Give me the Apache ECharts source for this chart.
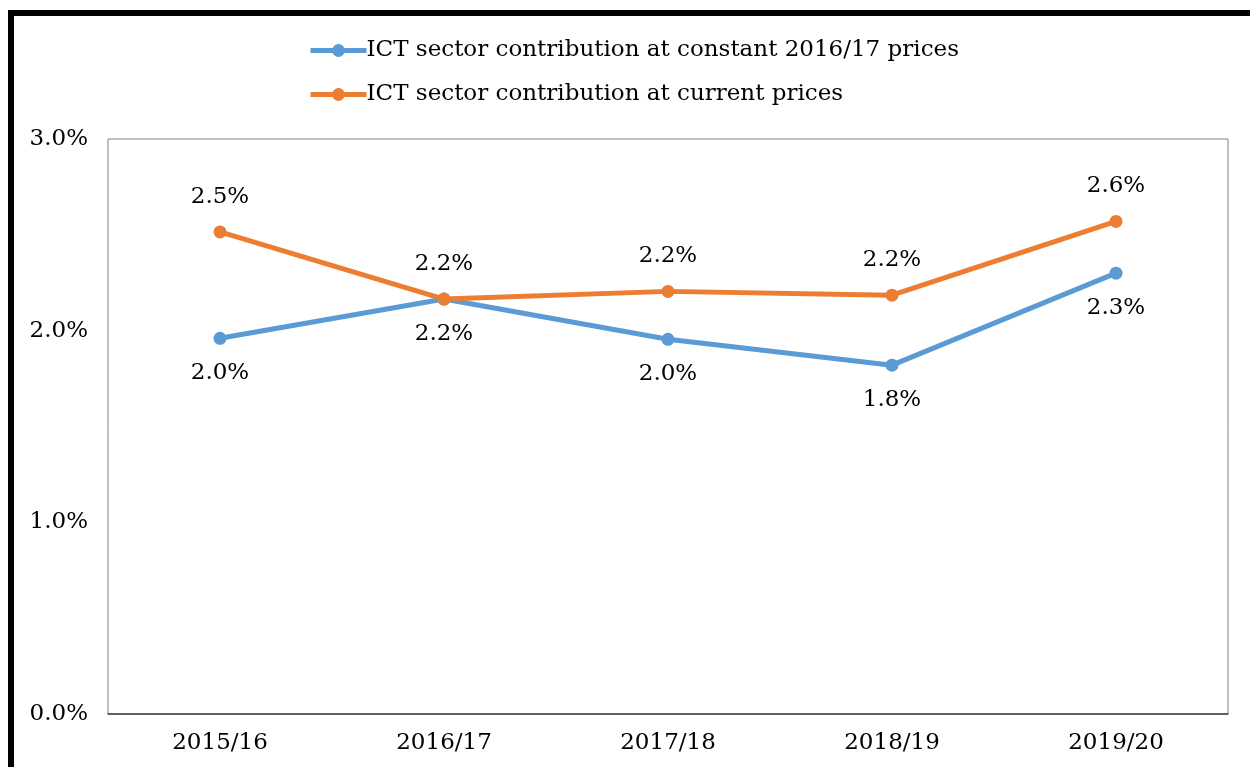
<!DOCTYPE html>
<html>
<head>
<meta charset="utf-8">
<script src="https://cdn.jsdelivr.net/npm/echarts@6/dist/echarts.min.js"></script>
<style>
  html, body { margin: 0; padding: 0; background: #fff; }
  #main { width: 1250px; height: 767px; }
</style>
</head>
<body>
<div id="main"></div>
<script>
var years = ['2015/16', '2016/17', '2017/18', '2018/19', '2019/20'];
var constantPrices = [1.96, 2.165, 1.955, 1.82, 2.3];
var currentPrices = [2.515, 2.165, 2.205, 2.185, 2.57];
var yTicks = [0, 1, 2, 3];

var font = 'DejaVu Serif';
var fs = 23;

var chart = echarts.init(document.getElementById('main'));

function pct(p) { return p.value.toFixed(1) + '%'; }

var option = {
  backgroundColor: '#fff',
  textStyle: { fontFamily: font },
  graphic: [
    { type: 'rect', shape: { x: 8, y: 10, width: 1250, height: 6 }, style: { fill: '#000' } },
    { type: 'rect', shape: { x: 8, y: 10, width: 6, height: 760 }, style: { fill: '#000' } }
  ],
  legend: {
    orient: 'vertical',
    left: 303,
    top: 34,
    itemWidth: 56,
    itemHeight: 16,
    itemGap: 21,
    lineStyle: { width: 5 },
    itemStyle: { borderWidth: 0 },
    textStyle: { fontFamily: font, fontSize: fs, color: '#000', padding: [0, 0, 0, -5] },
    data: [
      'ICT sector contribution at constant 2016/17 prices',
      'ICT sector contribution at current prices'
    ]
  },
  grid: {
    left: 108,
    right: 22,
    top: 139,
    bottom: 53,
    show: true,
    borderColor: '#808080',
    borderWidth: 1
  },
  xAxis: {
    type: 'category',
    data: years,
    boundaryGap: true,
    axisLine: { lineStyle: { color: '#404040', width: 1.5 } },
    axisTick: { show: false },
    axisLabel: { fontFamily: font, fontSize: fs, color: '#000', margin: 18 }
  },
  yAxis: {
    type: 'value',
    min: yTicks[0],
    max: yTicks[yTicks.length - 1],
    interval: 1,
    splitLine: { show: false },
    axisLine: { show: false },
    axisTick: { show: false },
    axisLabel: {
      fontFamily: font, fontSize: fs, color: '#000', margin: 20,
      formatter: function (v) { return v.toFixed(1) + '%'; }
    }
  },
  series: [
    {
      name: 'ICT sector contribution at constant 2016/17 prices',
      type: 'line',
      data: constantPrices,
      color: '#5B9BD5',
      lineStyle: { width: 5 },
      symbol: 'circle',
      symbolSize: 13,
      label: {
        show: true, position: 'bottom', distance: 17,
        fontFamily: font, fontSize: fs, color: '#000',
        formatter: pct
      }
    },
    {
      name: 'ICT sector contribution at current prices',
      type: 'line',
      data: currentPrices,
      color: '#ED7D31',
      lineStyle: { width: 5 },
      symbol: 'circle',
      symbolSize: 13,
      label: {
        show: true, position: 'top', distance: 17,
        fontFamily: font, fontSize: fs, color: '#000',
        formatter: pct
      }
    }
  ]
};

chart.setOption(option);
</script>
</body>
</html>
